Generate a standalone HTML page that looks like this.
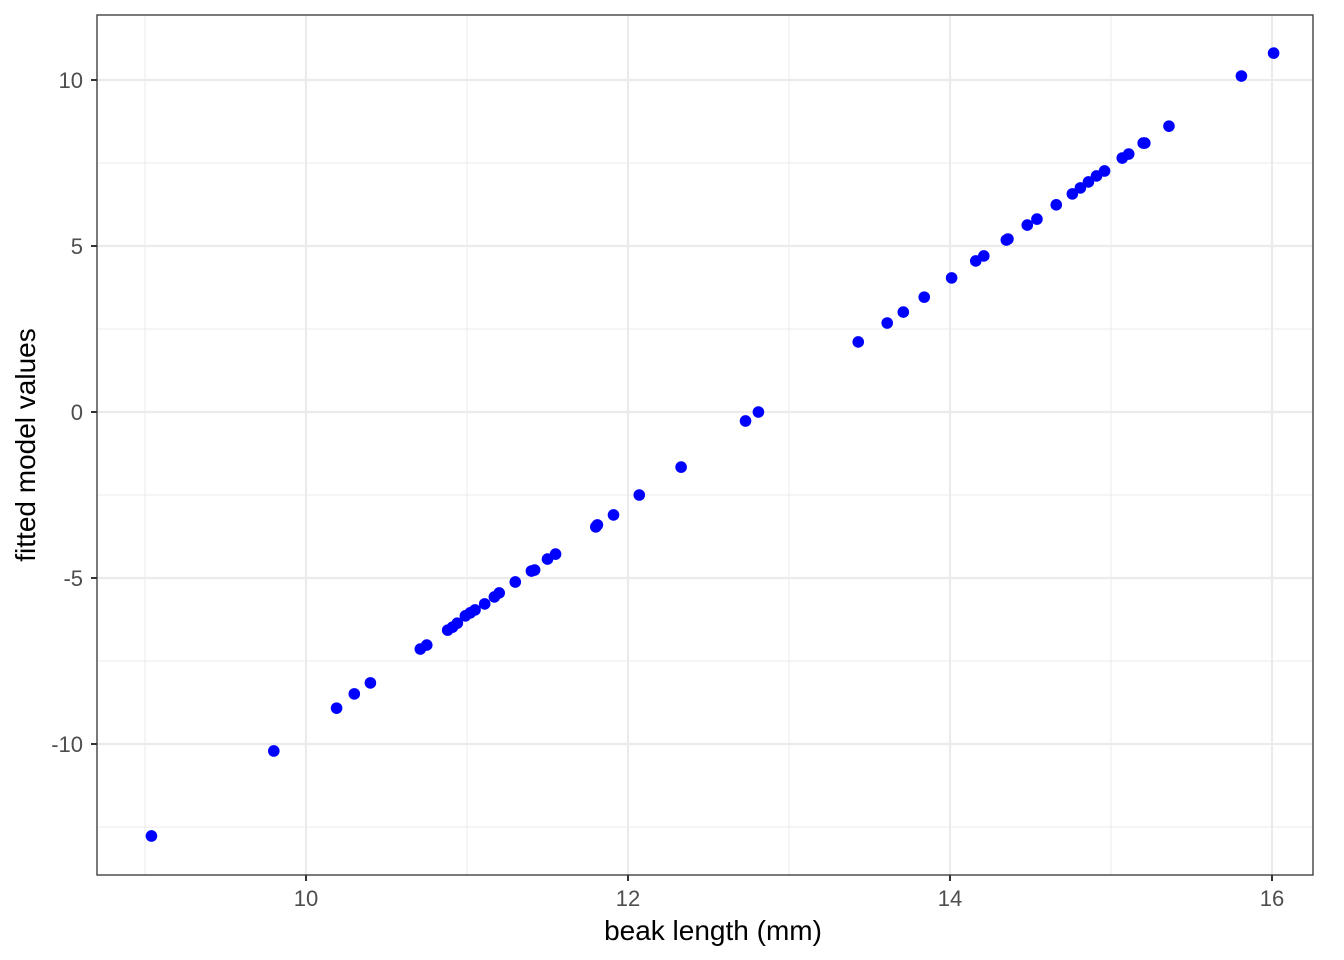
<!DOCTYPE html>
<html><head><meta charset="utf-8"><style>
body{margin:0;background:#fff}
svg{display:block;font-family:"Liberation Sans",Arial,sans-serif}
</style></head><body>
<svg id="chart" width="1344" height="960"></svg>
<script>
const xVals=[9.04,9.80,10.19,10.30,10.40,10.71,10.75,10.88,10.91,10.94,10.99,11.02,11.05,11.11,11.17,11.20,11.30,11.40,11.42,11.50,11.55,11.80,11.81,11.91,12.07,12.33,12.73,12.81,13.43,13.61,13.71,13.84,14.01,14.16,14.21,14.35,14.36,14.48,14.54,14.66,14.76,14.81,14.86,14.91,14.96,15.07,15.11,15.20,15.21,15.36,15.81,16.01];
const yVals=[-12.77,-10.21,-8.92,-8.49,-8.16,-7.14,-7.02,-6.57,-6.48,-6.36,-6.14,-6.05,-5.96,-5.78,-5.57,-5.45,-5.12,-4.79,-4.76,-4.43,-4.28,-3.46,-3.40,-3.10,-2.50,-1.66,-0.27,0.0,2.11,2.68,3.01,3.46,4.04,4.55,4.70,5.18,5.21,5.63,5.81,6.24,6.57,6.75,6.93,7.11,7.26,7.65,7.77,8.10,8.10,8.61,10.12,10.81];
const xTicks=[10,12,14,16];
const xMinor=[9,11,13,15];
const yTicks=[-10,-5,0,5,10];
const yMinor=[-12.5,-7.5,-2.5,2.5,7.5];
const L=97,T=15,R=1313,B=875;
function sx(v){return 306+(v-10)*161;}
function sy(v){return 412-v*33.2;}
const svg=document.getElementById('chart');
const NS='http://www.w3.org/2000/svg';
function mk(t,a){const e=document.createElementNS(NS,t);for(const k in a)e.setAttribute(k,a[k]);svg.appendChild(e);return e;}
xMinor.forEach(v=>{const e=mk('line',{x1:sx(v),x2:sx(v),y1:T,y2:B,stroke:'#ebebeb','stroke-width':1});

});
yMinor.forEach(v=>{const e=mk('line',{x1:L,x2:R,y1:sy(v),y2:sy(v),stroke:'#ebebeb','stroke-width':1});

});
xTicks.forEach(v=>{const e=mk('line',{x1:sx(v),x2:sx(v),y1:T,y2:B,stroke:'#ebebeb','stroke-width':2.2});


const t=mk('line',{x1:sx(v),x2:sx(v),y1:B,y2:B+6,stroke:'#333','stroke-width':2});


const l=mk('text',{x:sx(v),y:B+31,'text-anchor':'middle','font-size':22,fill:'#4d4d4d'});l.textContent=v;

});
yTicks.forEach(v=>{const e=mk('line',{x1:L,x2:R,y1:sy(v),y2:sy(v),stroke:'#ebebeb','stroke-width':2.2});


const t=mk('line',{x1:L-6,x2:L,y1:sy(v),y2:sy(v),stroke:'#333','stroke-width':2});


const l=mk('text',{x:L-14,y:sy(v)+8,'text-anchor':'end','font-size':22,fill:'#4d4d4d'});l.textContent=v;

});
xVals.forEach((v,i)=>{const c=mk('circle',{cx:sx(v),cy:sy(yVals[i]),r:5.8,fill:'#0000ff'});

});
const f=mk('rect',{x:L,y:T,width:R-L,height:B-T,fill:'none',stroke:'#333','stroke-width':1.3});


const xt=mk('text',{x:713,y:940,'text-anchor':'middle','font-size':28,fill:'#000'});xt.textContent='beak length (mm)';


const yt=mk('text',{x:0,y:0,'text-anchor':'middle','font-size':28,fill:'#000',transform:'translate(35,'+((T+B)/2)+') rotate(-90)'});yt.textContent='fitted model values';


</script>
</body></html>
